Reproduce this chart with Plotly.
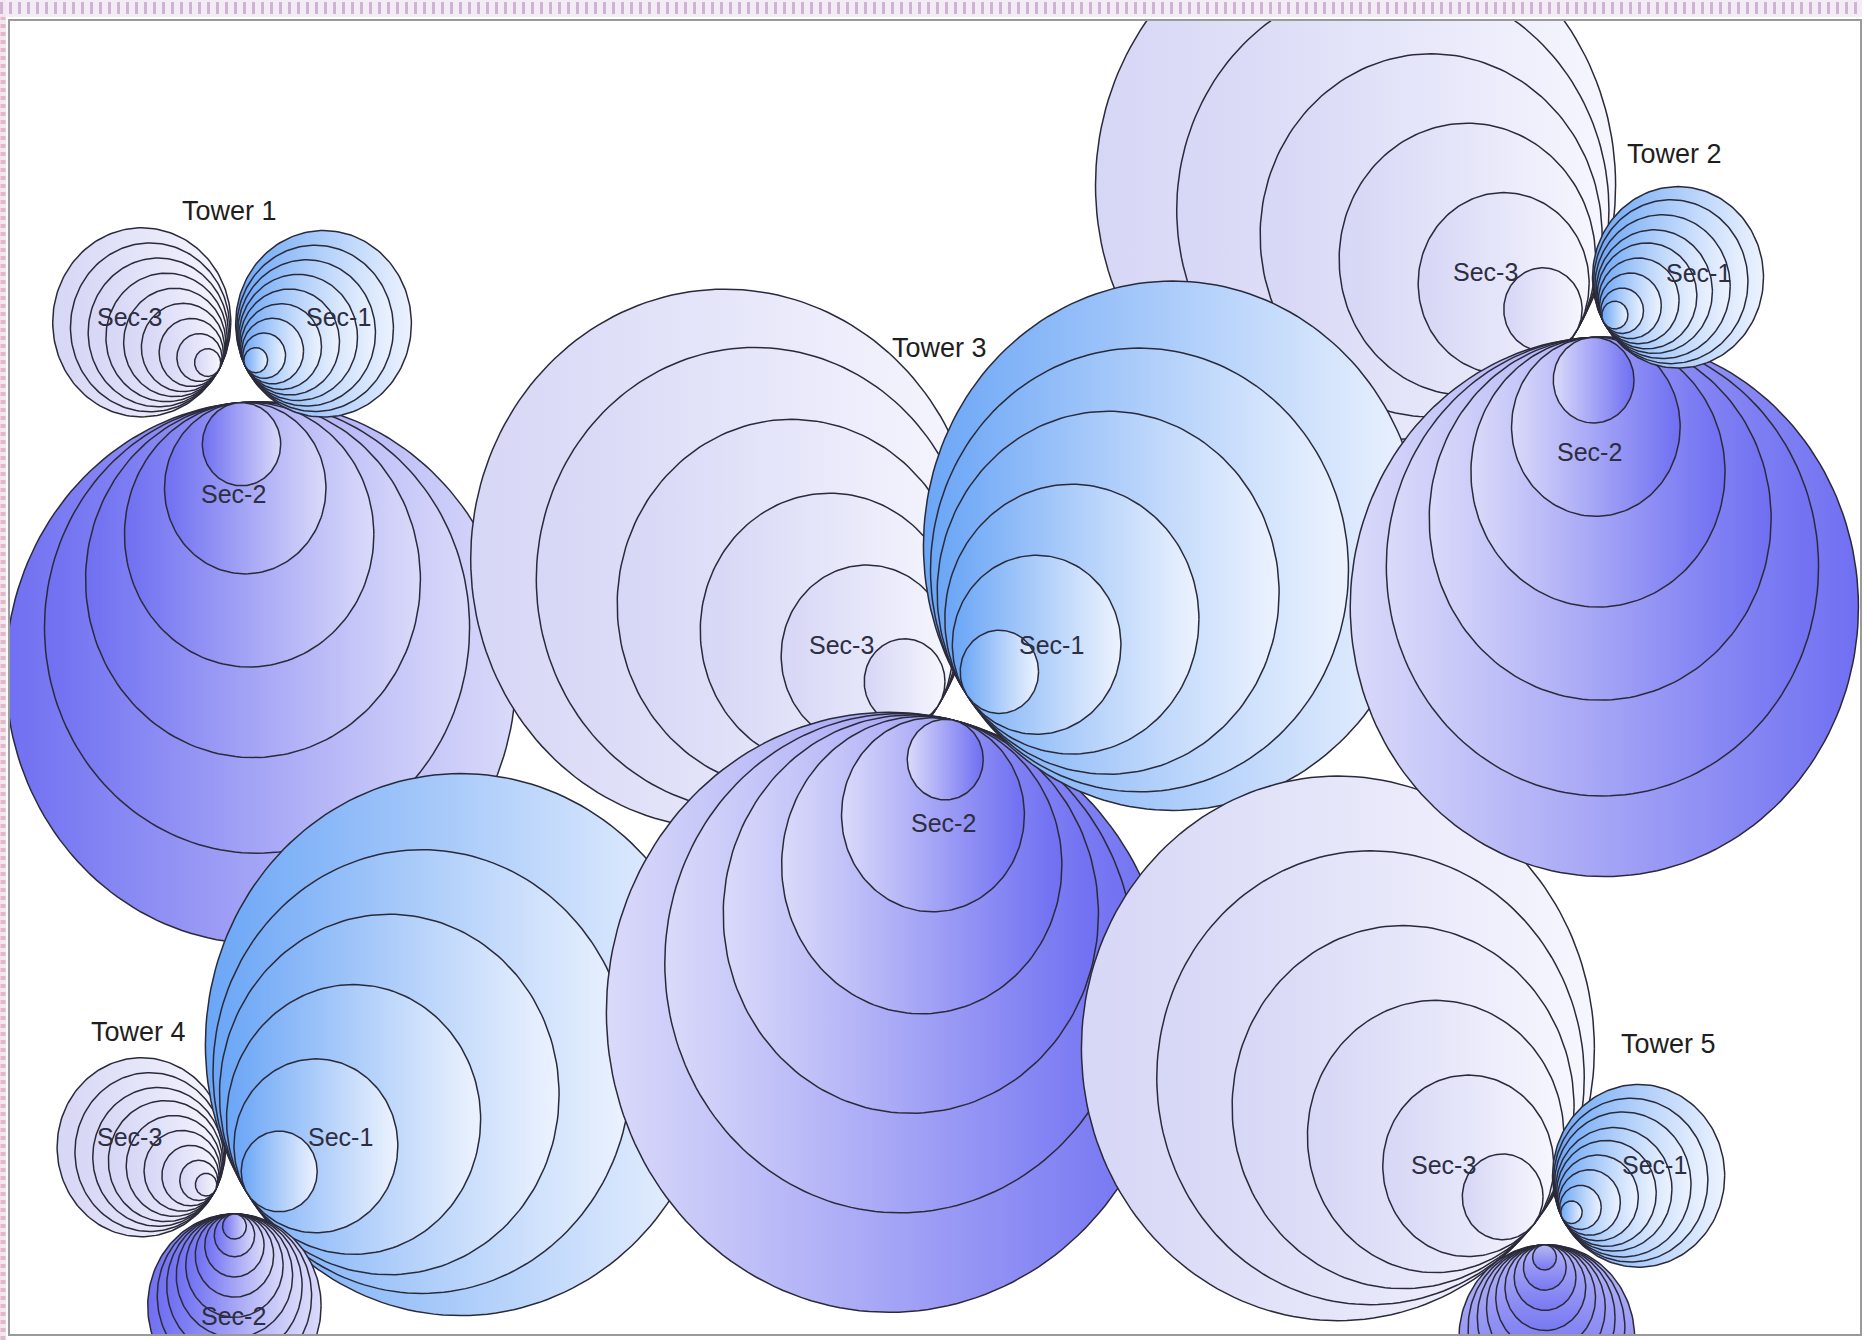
import numpy as np
import plotly.graph_objects as go

# ---------------- data ----------------
towers = ["Tower 1", "Tower 2", "Tower 3", "Tower 4", "Tower 5"]
sectors = ["Sec-1", "Sec-2", "Sec-3"]

# ring radii of every sector, one list per tower (reference chart units)
sec1_radii = [
    [74, 66, 58, 50, 42, 34, 26, 18, 10],
    [72, 65, 57, 49, 42, 34, 26, 18, 11],
    [210, 176, 144, 107, 71, 33],
    [215, 176, 143, 107, 69, 32],
    [72.5, 65, 57.5, 49, 42, 34, 26, 17.5, 9],
]
sec2_radii = [
    [215, 179, 141, 105, 68, 33],
    [214, 182, 144, 107, 71, 34],
    [238, 198, 158, 118, 77, 32],
    [73, 65, 57, 49, 41, 33, 25, 17, 10],
    [74, 66, 58, 50, 42, 34, 26, 18, 10],
]
sec3_radii = [
    [75, 67, 59, 51, 43, 35, 27, 19, 11],
    [219, 182, 144, 108, 72, 33],
    [214, 184, 147, 109, 72, 34],
    [71, 63, 55, 48, 40, 32, 24, 16, 9],
    [216, 180, 144, 108, 72, 34],
]
radii = {"Sec-1": sec1_radii, "Sec-2": sec2_radii, "Sec-3": sec3_radii}

# ---------------- layout (positions / styles) ----------------
# anchor point of each sector and the direction its rings grow to
anchor = {
    (0, "Sec-1"): (206, 308, 0.89, -0.45),
    (0, "Sec-2"): (200, 339, 0.09, 1.0),
    (0, "Sec-3"): (184, 311, -0.87, -0.50),
    (1, "Sec-1"): (1350, 271, 0.87, -0.49),
    (1, "Sec-2"): (1340, 284, 0.05, 1.0),
    (1, "Sec-3"): (1327, 279, -0.85, -0.53),
    (2, "Sec-1"): (814, 585, 0.825, -0.565),
    (2, "Sec-2"): (803, 606, -0.23, 0.973),
    (2, "Sec-3"): (790, 593, -0.84, -0.54),
    (3, "Sec-1"): (208, 1004, 0.835, -0.55),
    (3, "Sec-2"): (197, 1021, 0.0, 1.0),
    (3, "Sec-3"): (181, 1001, -0.88, -0.48),
    (4, "Sec-1"): (1315, 1024, 0.88, -0.45),
    (4, "Sec-2"): (1300, 1047, 0.03, 1.0),
    (4, "Sec-3"): (1291, 1030, -0.76, -0.645),
}
tower_label_pos = [(193, 178), (1410, 130), (791, 293), (116, 868), (1405, 878)]
sector_label_pos = {
    (0, "Sec-1"): (285, 267), (0, "Sec-2"): (196, 416), (0, "Sec-3"): (109, 267),
    (1, "Sec-1"): (1430, 230), (1, "Sec-2"): (1338, 380), (1, "Sec-3"): (1251, 229),
    (2, "Sec-1"): (885, 543), (2, "Sec-2"): (794, 692), (2, "Sec-3"): (708, 543),
    (3, "Sec-1"): (286, 956), (3, "Sec-2"): (196, 1107), (3, "Sec-3"): (109, 956),
    (4, "Sec-1"): (1393, 980), (4, "Sec-3"): (1215, 980),
}
draw_order = [
    (0, "Sec-3"), (0, "Sec-2"), (0, "Sec-1"),
    (3, "Sec-3"), (3, "Sec-1"), (3, "Sec-2"),
    (1, "Sec-3"),
    (2, "Sec-3"), (2, "Sec-2"), (2, "Sec-1"),
    (4, "Sec-3"), (4, "Sec-1"), (4, "Sec-2"),
    (1, "Sec-2"), (1, "Sec-1"),
]

BLUE_D, BLUE_L = "#6ba6f6", "#edf3fe"
LAV_D, LAV_L = "#d6d6f6", "#f6f6fe"
PUR_D, PUR_L = "#6f6ff2", "#dadafa"


def gradient(t, s):
    if s == "Sec-1":
        return dict(type="horizontal", colorscale=[[0, BLUE_D], [1, BLUE_L]])
    if s == "Sec-3":
        return dict(type="horizontal", colorscale=[[0, LAV_D], [1, LAV_L]])
    if t in (1, 2):
        return dict(type="horizontal", colorscale=[[0, PUR_L], [1, PUR_D]])
    if t == 4:
        return dict(type="vertical", colorscale=[[0, "#7878f2"], [1, "#b8b8f6"]])
    return dict(type="horizontal", colorscale=[[0, PUR_D], [1, PUR_L]])


K = 1.06  # vertical stretch of the reference picture
theta = np.linspace(0, 2 * np.pi, 181)

fig = go.Figure()
for (t, s) in draw_order:
    tx, ty, ux, uy = anchor[(t, s)]
    n = np.hypot(ux, uy)
    ux, uy = ux / n, uy / n
    for r in sorted(radii[s][t], reverse=True):
        cx = tx + r * ux
        cy = ty + K * r * uy
        fig.add_trace(go.Scatter(
            x=cx + r * np.cos(theta),
            y=cy + K * r * np.sin(theta),
            mode="lines", fill="toself",
            fillgradient=gradient(t, s),
            line=dict(color="#2a2a3a", width=1.5),
            hoverinfo="skip", showlegend=False,
        ))

FONT = "Liberation Sans, Arial, sans-serif"
annotations = []
for i, name in enumerate(towers):
    x, y = tower_label_pos[i]
    annotations.append(dict(x=x, y=y, xref="x", yref="y", text=name, showarrow=False,
                            font=dict(family=FONT, size=27, color="#1e1e1e")))
for (t, s), (x, y) in sector_label_pos.items():
    annotations.append(dict(x=x, y=y, xref="x", yref="y", text=s, showarrow=False,
                            font=dict(family=FONT, size=25, color="#2e2e42")))

# decorative border strips of the original screenshot (canvas pixels -> paper)
W, H = 1864, 1340
ML, MR, MT, MB = 10, 2, 21, 6
PW, PH = W - ML - MR, H - MT - MB


def px(xc):
    return (xc - ML) / PW


def py(yc):
    return (H - MB - yc) / PH


shapes = [
    dict(type="rect", xref="paper", yref="paper", x0=px(0), x1=px(W), y0=py(17), y1=py(0),
         fillcolor="#f4ecf4", line=dict(width=0), layer="below"),
    dict(type="line", xref="paper", yref="paper", x0=px(0), x1=px(W), y0=py(8), y1=py(8),
         line=dict(color="#cfb2d6", width=12, dash="3px,6px")),
    dict(type="rect", xref="paper", yref="paper", x0=px(0), x1=px(6), y0=py(H), y1=py(0),
         fillcolor="#f4e6ee", line=dict(width=0), layer="below"),
    dict(type="line", xref="paper", yref="paper", x0=px(3), x1=px(3), y0=py(H), y1=py(17),
         line=dict(color="#e2b8c8", width=5, dash="4px,4px")),
]

fig.update_layout(
    width=W, height=H,
    margin=dict(l=ML, r=MR, t=MT, b=MB),
    paper_bgcolor="white", plot_bgcolor="white",
    xaxis=dict(range=[8, 1566], visible=True, showgrid=False, zeroline=False,
               showticklabels=False, ticks="", showline=True, mirror=True,
               linecolor="#9a9a9a", linewidth=2),
    yaxis=dict(range=[1122, 18], showgrid=False, zeroline=False,
               showticklabels=False, ticks="", showline=True, mirror=True,
               linecolor="#9a9a9a", linewidth=2),
    annotations=annotations,
    shapes=shapes,
    showlegend=False,
)

fig.write_html(
    "out.html",
    config={"displayModeBar": False},
    post_script="document.body.style.margin='0px';document.body.style.overflow='hidden';",
)
